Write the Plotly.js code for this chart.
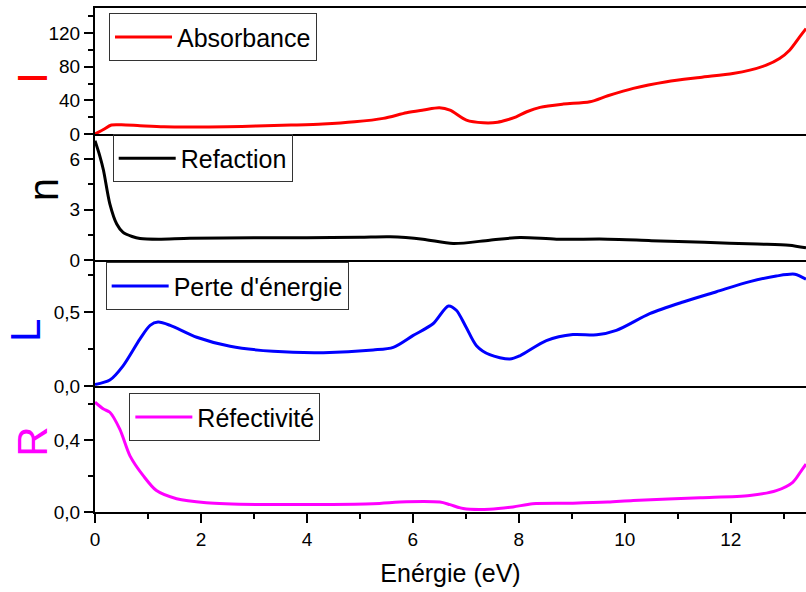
<!DOCTYPE html>
<html>
<head>
<meta charset="utf-8">
<script src="https://cdn.plot.ly/plotly-3.0.1.min.js"></script>
<style>html,body{margin:0;padding:0;background:#fff}#chart{width:806px;height:592px}</style>
</head>
<body>
<div id="chart"></div>
<script>
// ---- Data ----
const absE = [0, 0.15, 0.31, 0.5, 0.85, 1.3, 1.79, 2.5, 3.05, 3.7, 4.3, 4.9, 5.44, 5.88, 6.2, 6.5, 6.7, 7.01, 7.33, 7.6, 7.77, 7.95, 8.15, 8.4, 8.84, 9.34, 9.68, 10.16, 10.79, 11.42, 12.04, 12.36, 12.67, 12.92, 13.11, 13.3, 13.42];
const absV = [0, 5, 10.7, 11, 9.9, 8.6, 8.3, 8.6, 9.5, 10.6, 11.9, 14.5, 18.6, 25.3, 28.5, 31.2, 28.5, 16.6, 13.4, 14, 16.6, 20.5, 26.5, 31.7, 35.6, 38.4, 45.5, 54.3, 62.1, 67.3, 72.1, 76, 82, 89.9, 99.8, 115.6, 125.5];

const refrE = [0, 0.09, 0.16, 0.28, 0.41, 0.53, 0.7, 0.85, 1.2, 1.79, 3, 4, 5, 5.57, 6.19, 6.76, 7.45, 8.02, 8.71, 9.68, 10.5, 11.5, 12.5, 13.1, 13.42];
const refrV = [7.1, 6.2, 5.34, 3.34, 2.14, 1.64, 1.4, 1.28, 1.24, 1.3, 1.32, 1.33, 1.35, 1.38, 1.24, 0.98, 1.18, 1.34, 1.24, 1.24, 1.15, 1.05, 0.95, 0.88, 0.72];

const lossE = [0, 0.28, 0.53, 0.85, 1.04, 1.19, 1.42, 1.92, 2.55, 3.36, 4.31, 5.25, 5.63, 6.0, 6.38, 6.67, 6.82, 7.0, 7.2, 7.45, 7.83, 8.02, 8.52, 9.02, 9.47, 9.84, 10.47, 11.1, 11.73, 12.36, 12.86, 13.21, 13.42];
const lossV = [0.01, 0.04, 0.136, 0.318, 0.409, 0.431, 0.409, 0.329, 0.268, 0.234, 0.225, 0.243, 0.261, 0.34, 0.42, 0.54, 0.511, 0.40, 0.272, 0.211, 0.182, 0.204, 0.306, 0.347, 0.345, 0.375, 0.488, 0.567, 0.636, 0.704, 0.742, 0.754, 0.72];

const reflE = [0, 0.16, 0.28, 0.47, 0.66, 0.91, 1.16, 1.54, 2.1, 3.05, 4.31, 5.25, 5.88, 6.51, 6.7, 6.95, 7.45, 7.89, 8.26, 9.02, 9.68, 10.16, 11.42, 12.36, 12.86, 13.17, 13.33, 13.42];
const reflV = [0.61, 0.572, 0.554, 0.459, 0.312, 0.202, 0.119, 0.074, 0.052, 0.042, 0.042, 0.046, 0.057, 0.055, 0.041, 0.019, 0.015, 0.028, 0.046, 0.049, 0.055, 0.064, 0.079, 0.092, 0.119, 0.165, 0.229, 0.266];

const seriesNames = ["Absorbance", "Refaction", "Perte d'énergie", "Réfectivité"];
const axisTitles = ["I", "n", "L", "R"];
const seriesColors = ["#ff0000", "#000000", "#0000ff", "#ff00ff"];
const xTitle = "Enérgie (eV)";

// ---- Chart ----
const FONT = "Liberation Sans, Arial, sans-serif";
const lineStyle = (c) => ({color: c, width: 3, shape: 'spline', smoothing: 0.8});

const traces = [
  {x: absE, y: absV, xaxis: 'x', yaxis: 'y', name: seriesNames[0], mode: 'lines', line: lineStyle(seriesColors[0]), legend: 'legend'},
  {x: refrE, y: refrV, xaxis: 'x2', yaxis: 'y2', name: seriesNames[1], mode: 'lines', line: lineStyle(seriesColors[1]), legend: 'legend2'},
  {x: lossE, y: lossV, xaxis: 'x3', yaxis: 'y3', name: seriesNames[2], mode: 'lines', line: lineStyle(seriesColors[2]), legend: 'legend3'},
  {x: reflE, y: reflV, xaxis: 'x4', yaxis: 'y4', name: seriesNames[3], mode: 'lines', line: lineStyle(seriesColors[3]), legend: 'legend4'}
];

const XR = [0, 13.42];
function xax(anchor, top, bottom) {
  const a = {
    anchor: anchor, range: XR, showgrid: false, zeroline: false,
    showline: true, mirror: top, linecolor: '#000', linewidth: 2,
    showticklabels: false, ticks: ''
  };
  if (bottom) {
    Object.assign(a, {
      showticklabels: true, ticks: 'outside', ticklen: 9, tickwidth: 2, tickcolor: '#000',
      dtick: 2, tick0: 0, tickfont: {family: FONT, size: 19, color: '#000'},
      minor: {dtick: 1, ticks: 'outside', ticklen: 5, tickwidth: 2, tickcolor: '#000'},
      title: {text: xTitle, font: {family: FONT, size: 25, color: '#000'}, standoff: 16}
    });
  } else {
    a.matches = 'x4';
  }
  return a;
}
function yax(anchor, domain, range, dtick, minorD, fmt) {
  return {
    anchor: anchor, domain: domain, range: range, showgrid: false, zeroline: false,
    showline: true, linecolor: '#000', linewidth: 2,
    ticks: 'outside', ticklen: 9, tickwidth: 2, tickcolor: '#000',
    dtick: dtick, tick0: 0, tickformat: fmt,
    tickfont: {family: FONT, size: 19, color: '#000'},
    minor: {dtick: minorD, ticks: 'outside', ticklen: 5, tickwidth: 2, tickcolor: '#000'}
  };
}
function leg(x, y) {
  return {x: x, y: y, xref: 'paper', yref: 'paper', xanchor: 'left', yanchor: 'middle',
    bgcolor: 'rgba(255,255,255,0)', bordercolor: '#333', borderwidth: 1,
    font: {family: FONT, size: 25, color: '#000'}, itemwidth: 57};
}
function ytitle(i, x, y) {
  return {text: axisTitles[i], xref: 'paper', yref: 'paper', x: x, y: y, showarrow: false,
    textangle: -90, xanchor: 'center', yanchor: 'middle',
    font: {family: FONT, size: 42, color: seriesColors[i]}};
}

const layout = {
  width: 806, height: 592,
  margin: {l: 95, r: 0, t: 8, b: 80},
  paper_bgcolor: '#fff', plot_bgcolor: '#fff',
  separators: ', ',
  showlegend: true,
  font: {family: FONT, color: '#000'},
  xaxis: xax('y', true, false),
  xaxis2: xax('y2', false, false),
  xaxis3: xax('y3', false, false),
  xaxis4: xax('y4', false, true),
  yaxis: yax('x', [0.75, 1], [0, 150], 40, 20, 'd'),
  yaxis2: yax('x2', [0.5, 0.75], [0, 7.5], 3, 1.5, 'd'),
  yaxis3: yax('x3', [0.25, 0.5], [0, 0.85], 0.5, 0.25, '.1f'),
  yaxis4: yax('x4', [0, 0.25], [0, 0.7], 0.4, 0.2, '.1f'),
  legend: leg(0.0197, 0.942),
  legend2: leg(0.0249, 0.7016),
  legend3: leg(0.0150, 0.4478),
  legend4: leg(0.0483, 0.1881),
  annotations: [
    ytitle(0, -0.089, 0.861),
    ytitle(1, -0.072, 0.64),
    ytitle(2, -0.098, 0.36),
    ytitle(3, -0.088, 0.14)
  ]
};

Plotly.newPlot('chart', traces, layout, {staticPlot: true, displayModeBar: false});
</script>
</body>
</html>
